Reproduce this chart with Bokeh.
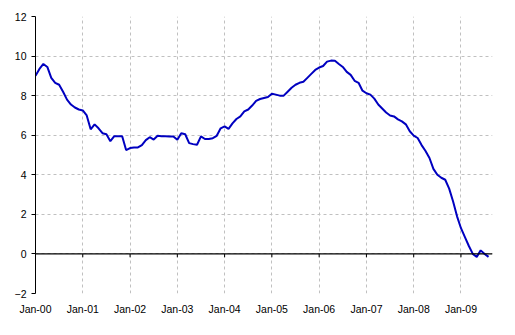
from bokeh.plotting import figure
from bokeh.models import Range1d, FixedTicker, Span, ColumnDataSource
from bokeh.embed import file_html
from bokeh.resources import INLINE

# Monthly values, Jan-00 .. Aug-09
values = [
    9.0, 9.35, 9.6, 9.45, 8.9, 8.65, 8.55, 8.2, 7.8, 7.55, 7.4, 7.3,
    7.25, 7.0, 6.3, 6.55, 6.35, 6.1, 6.05, 5.7, 5.95, 5.95, 5.95, 5.25,
    5.35, 5.38, 5.38, 5.5, 5.75, 5.9, 5.78, 5.97, 5.95, 5.95, 5.94, 5.94,
    5.77, 6.1, 6.05, 5.6, 5.55, 5.52, 5.94, 5.81, 5.81, 5.85, 5.97, 6.35,
    6.45, 6.32, 6.6, 6.82, 6.95, 7.2, 7.3, 7.5, 7.74, 7.83, 7.88, 7.93,
    8.1, 8.05, 8.0, 8.0, 8.2, 8.4, 8.55, 8.65, 8.7, 8.9, 9.1, 9.3,
    9.42, 9.5, 9.72, 9.77, 9.76, 9.6, 9.45, 9.2, 9.05, 8.75, 8.65, 8.25,
    8.12, 8.05, 7.85, 7.55, 7.35, 7.15, 7.0, 6.95, 6.8, 6.7, 6.55, 6.2,
    5.98, 5.86, 5.5, 5.2, 4.85, 4.3, 4.0, 3.85, 3.75, 3.3, 2.65, 1.9,
    1.3, 0.85, 0.4, 0.0, -0.15, 0.18, 0.0, -0.15,
]
tick_labels = ["Jan-00", "Jan-01", "Jan-02", "Jan-03", "Jan-04",
               "Jan-05", "Jan-06", "Jan-07", "Jan-08", "Jan-09"]
y_ticks = [-2, 0, 2, 4, 6, 8, 10, 12]

months = list(range(len(values)))
tick_pos = [12 * i for i in range(len(tick_labels))]

p = figure(width=515, height=335, output_backend="svg", toolbar_location=None,
           x_range=Range1d(0, 116), y_range=Range1d(-2, 12),
           min_border_left=35, min_border_right=23, min_border_top=16,
           min_border_bottom=42)
p.outline_line_color = None
p.background_fill_color = "white"
p.border_fill_color = "white"

# grid
p.xgrid.ticker = FixedTicker(ticks=tick_pos)
p.ygrid.ticker = FixedTicker(ticks=y_ticks)
for g in (p.xgrid, p.ygrid):
    g.grid_line_color = "#c0c0c0"
    g.grid_line_dash = "3 3"
    g.grid_line_width = 1

# y axis
p.yaxis.ticker = FixedTicker(ticks=y_ticks)
p.yaxis.axis_line_color = "black"
p.yaxis.major_tick_line_color = "black"
p.yaxis.major_tick_out = 4
p.yaxis.major_tick_in = 0
p.yaxis.minor_tick_line_color = None
p.yaxis.major_label_standoff = 5
p.yaxis.major_label_text_font = "Liberation Sans"
p.yaxis.major_label_text_font_size = "10.5px"
p.yaxis.major_label_text_color = "black"

# x axis (labels only, at bottom)
p.xaxis.ticker = FixedTicker(ticks=tick_pos)
p.xaxis.major_label_overrides = {t: l for t, l in zip(tick_pos, tick_labels)}
p.xaxis.axis_line_color = None
p.xaxis.major_tick_line_color = None
p.xaxis.minor_tick_line_color = None
p.xaxis.major_tick_out = 0
p.xaxis.major_tick_in = 0
p.xaxis.major_label_standoff = 9
p.xaxis.major_label_text_font = "Liberation Sans"
p.xaxis.major_label_text_font_size = "10.5px"
p.xaxis.major_label_text_color = "black"

# zero line with tick marks
p.add_layout(Span(location=0, dimension="width", line_color="black", line_width=1.2))
p.segment(x0=tick_pos, y0=[0] * len(tick_pos), x1=tick_pos,
          y1=[-0.17] * len(tick_pos), line_color="black", line_width=1)

src = ColumnDataSource(dict(x=months, y=values))
p.line("x", "y", source=src, line_color="#0000c0", line_width=2)

open("out.html", "w").write(file_html(p, INLINE))
